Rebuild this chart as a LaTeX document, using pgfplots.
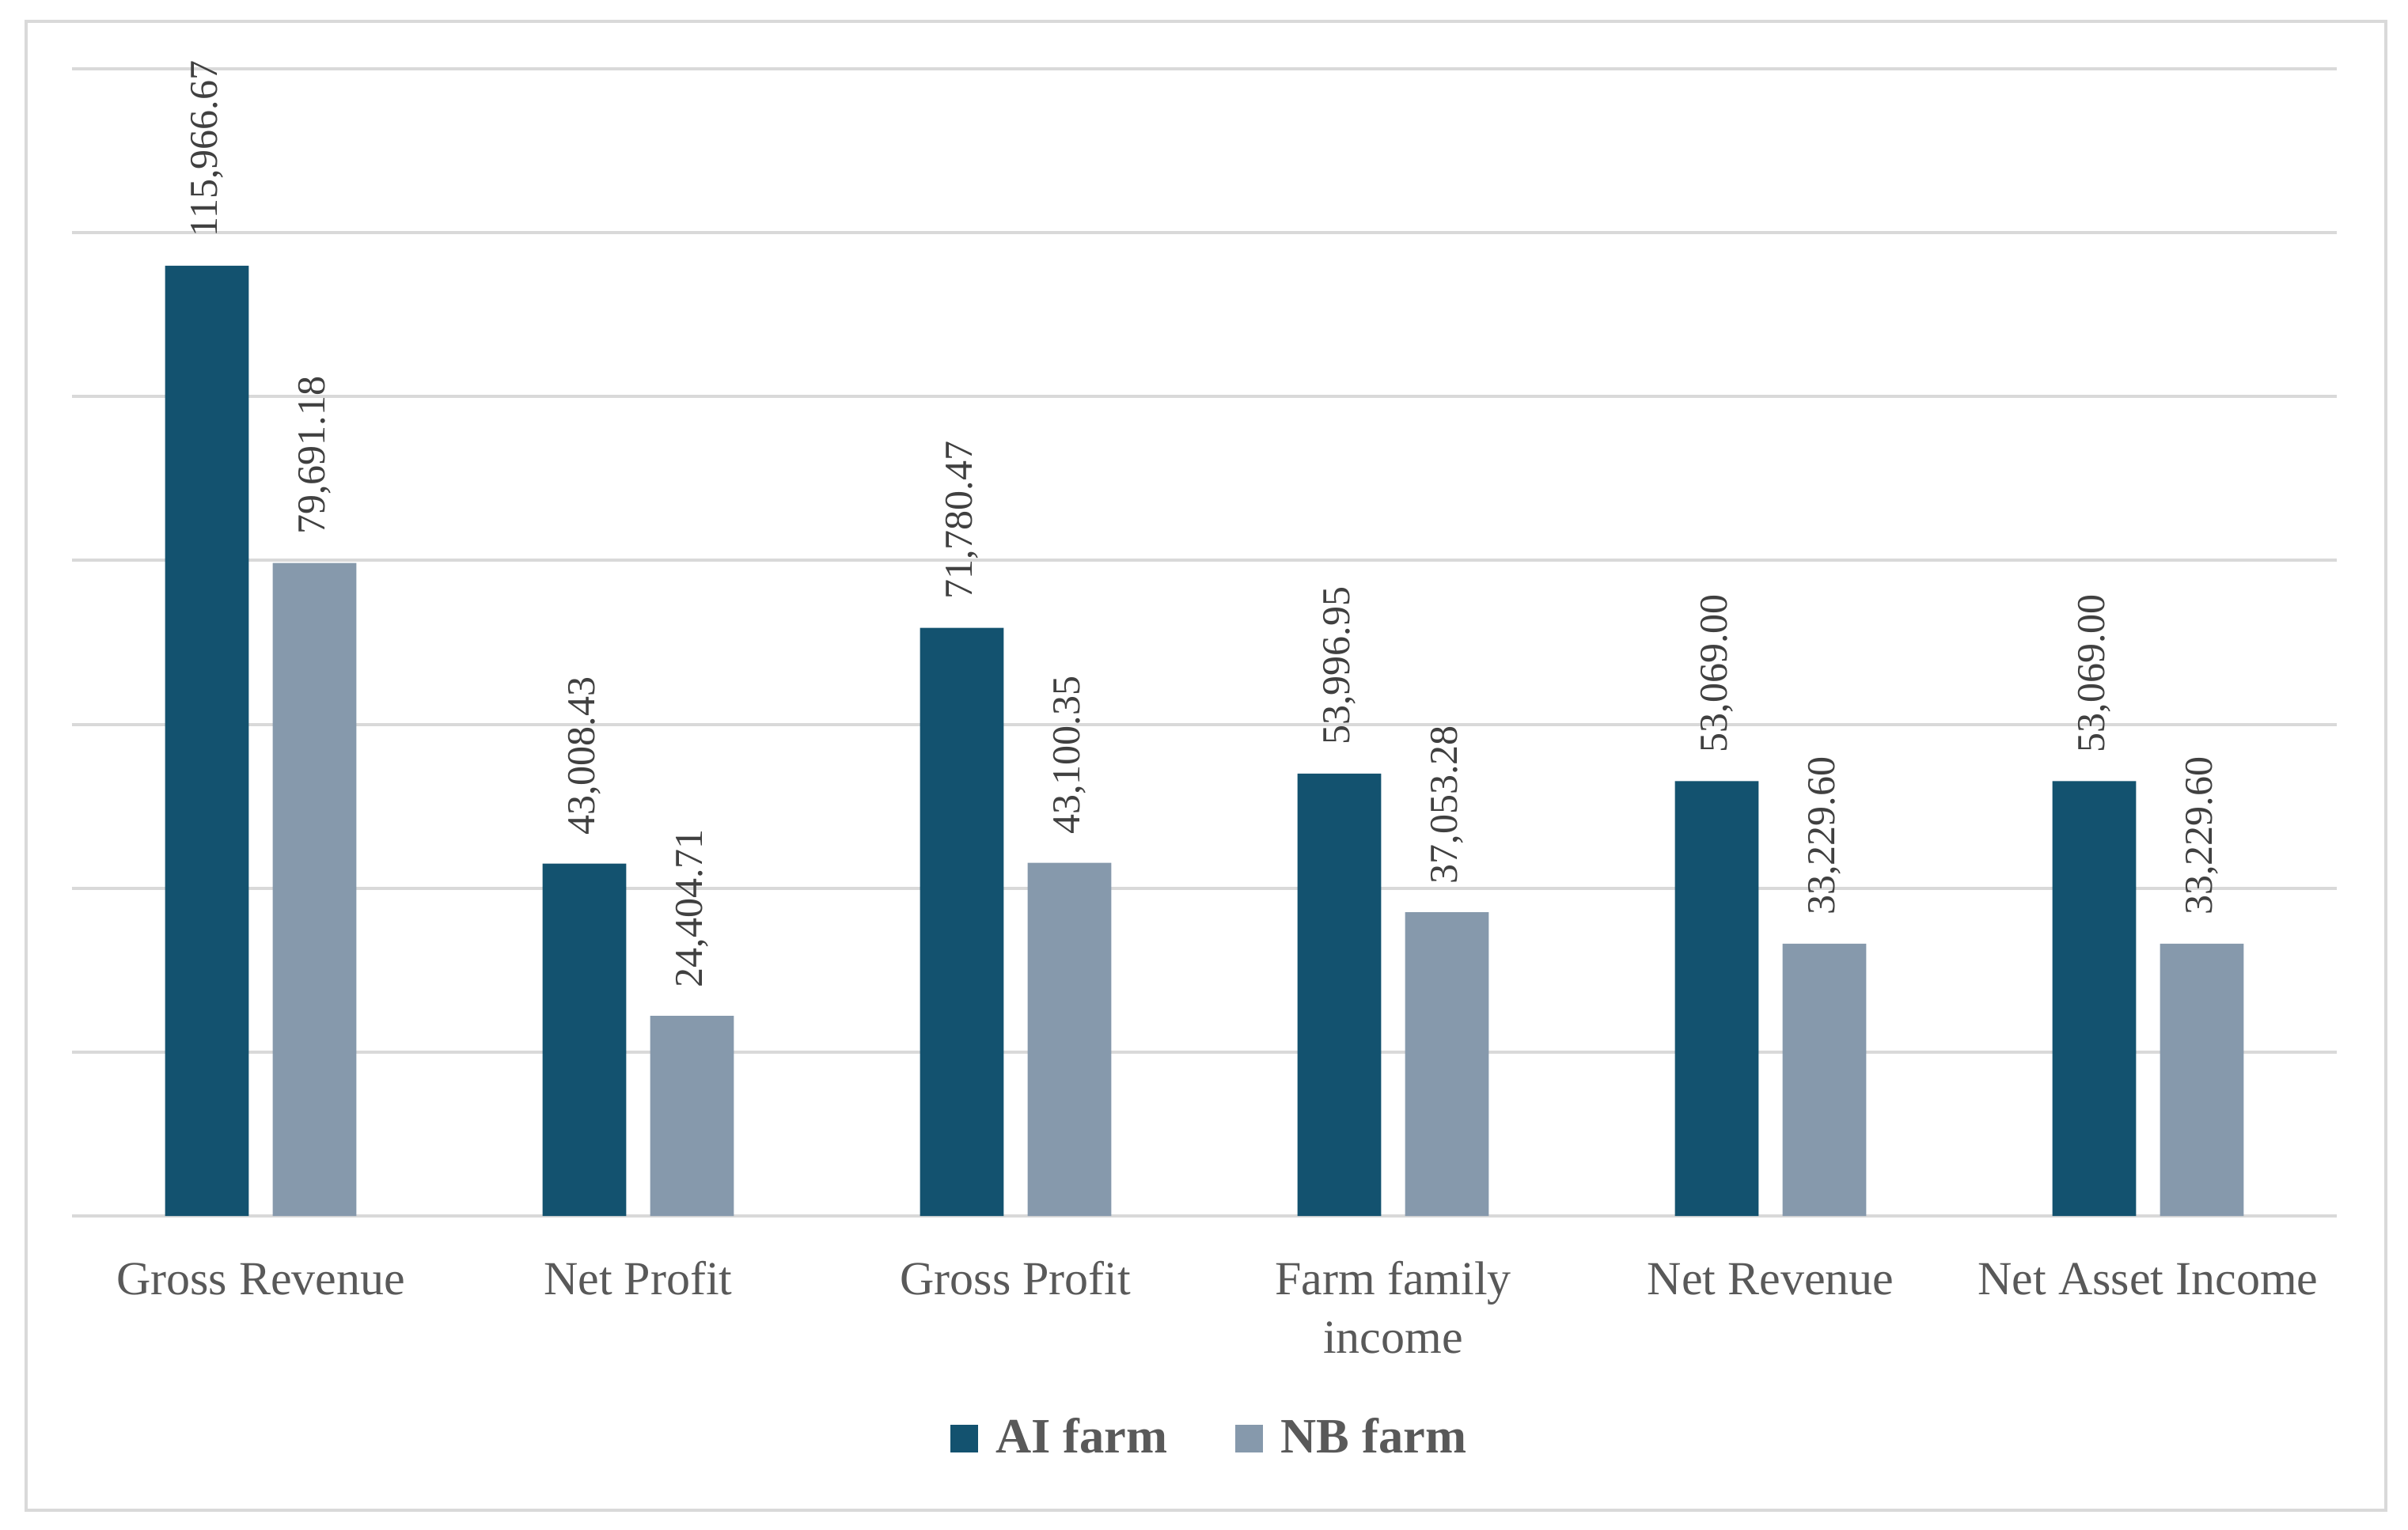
\documentclass[border=0pt]{standalone}
\usepackage{fontspec}
\setmainfont{Liberation Serif}
\usepackage{pgfplots}
\usepackage{pgfplotstable}
\pgfplotsset{compat=1.18}

\definecolor{aicol}{HTML}{13526F}
\definecolor{nbcol}{HTML}{8699AC}
\definecolor{gridcol}{HTML}{D9D9D9}
\definecolor{txtcol}{HTML}{595959}
\definecolor{valcol}{HTML}{404040}

% farm economics, one row per indicator
\pgfplotstableread{
x ai ailab nb nblab
0 115966.67 115,966.67 79691.18 79,691.18
1 43008.43 43,008.43 24404.71 24,404.71
2 71780.47 71,780.47 43100.35 43,100.35
3 53996.95 53,996.95 37053.28 37,053.28
4 53069.00 53,069.00 33229.60 33,229.60
5 53069.00 53,069.00 33229.60 33,229.60
}\farmdata

\begin{document}
\begin{tikzpicture}
\begin{axis}[
    at={(0pt,0pt)}, anchor=south west,
    scale only axis, width=572.4pt, height=290pt,
    ybar, bar width=0.222,
    xmin=-0.5, xmax=5.5, ymin=0, ymax=140000,
    xtick={0,...,5},
    xticklabels={Gross Revenue,Net Profit,Gross Profit,
        {\begin{tabular}[t]{@{}c@{}}Farm family\\income\end{tabular}},
        Net Revenue,Net Asset Income},
    xticklabel style={anchor=base, inner sep=0pt, yshift=-15.7pt,
        font=\fontsize{12}{14.8}\selectfont, text=txtcol},
    ytick={0,20000,...,140000}, yticklabels={}, scaled y ticks=false,
    ymajorgrids, grid style={gridcol, line width=0.8pt},
    axis line style={draw=none}, major tick style={draw=none},
    point meta=explicit symbolic,
    nodes near coords,
    every node near coord/.append style={rotate=90, anchor=west, inner xsep=7pt, inner ysep=0pt,
        font=\fontsize{10}{12}\selectfont, text=valcol},
    legend style={draw=none, fill=none, at={(0.5035,-0.1938)}, anchor=center,
        inner sep=0pt, legend columns=2,
        font=\fontsize{12.5}{14}\selectfont\bfseries, text=txtcol,
        /tikz/every odd column/.append style={column sep=2.5pt},
        /tikz/every even column/.append style={column sep=15.2pt}},
]
\addplot[fill=aicol, draw=none, bar shift=-0.1426,
    legend image code/.code={\fill[aicol] (0pt,-3.5pt) rectangle (7pt,3.5pt);}]
    table[x=x, y=ai, meta=ailab] {\farmdata};
\addlegendentry{AI farm}
\addplot[fill=nbcol, draw=none, bar shift=0.1426,
    legend image code/.code={\fill[nbcol] (0pt,-3.5pt) rectangle (7pt,3.5pt);}]
    table[x=x, y=nb, meta=nblab] {\farmdata};
\addlegendentry{NB farm}
\end{axis}
\draw[gridcol, line width=0.8pt] (-11.6pt,-74.4pt) rectangle (584.8pt,302pt);
\pgfresetboundingbox
\path (-18.2pt,-79.2pt) rectangle (590.4pt,307.4pt);
\end{tikzpicture}
\end{document}
